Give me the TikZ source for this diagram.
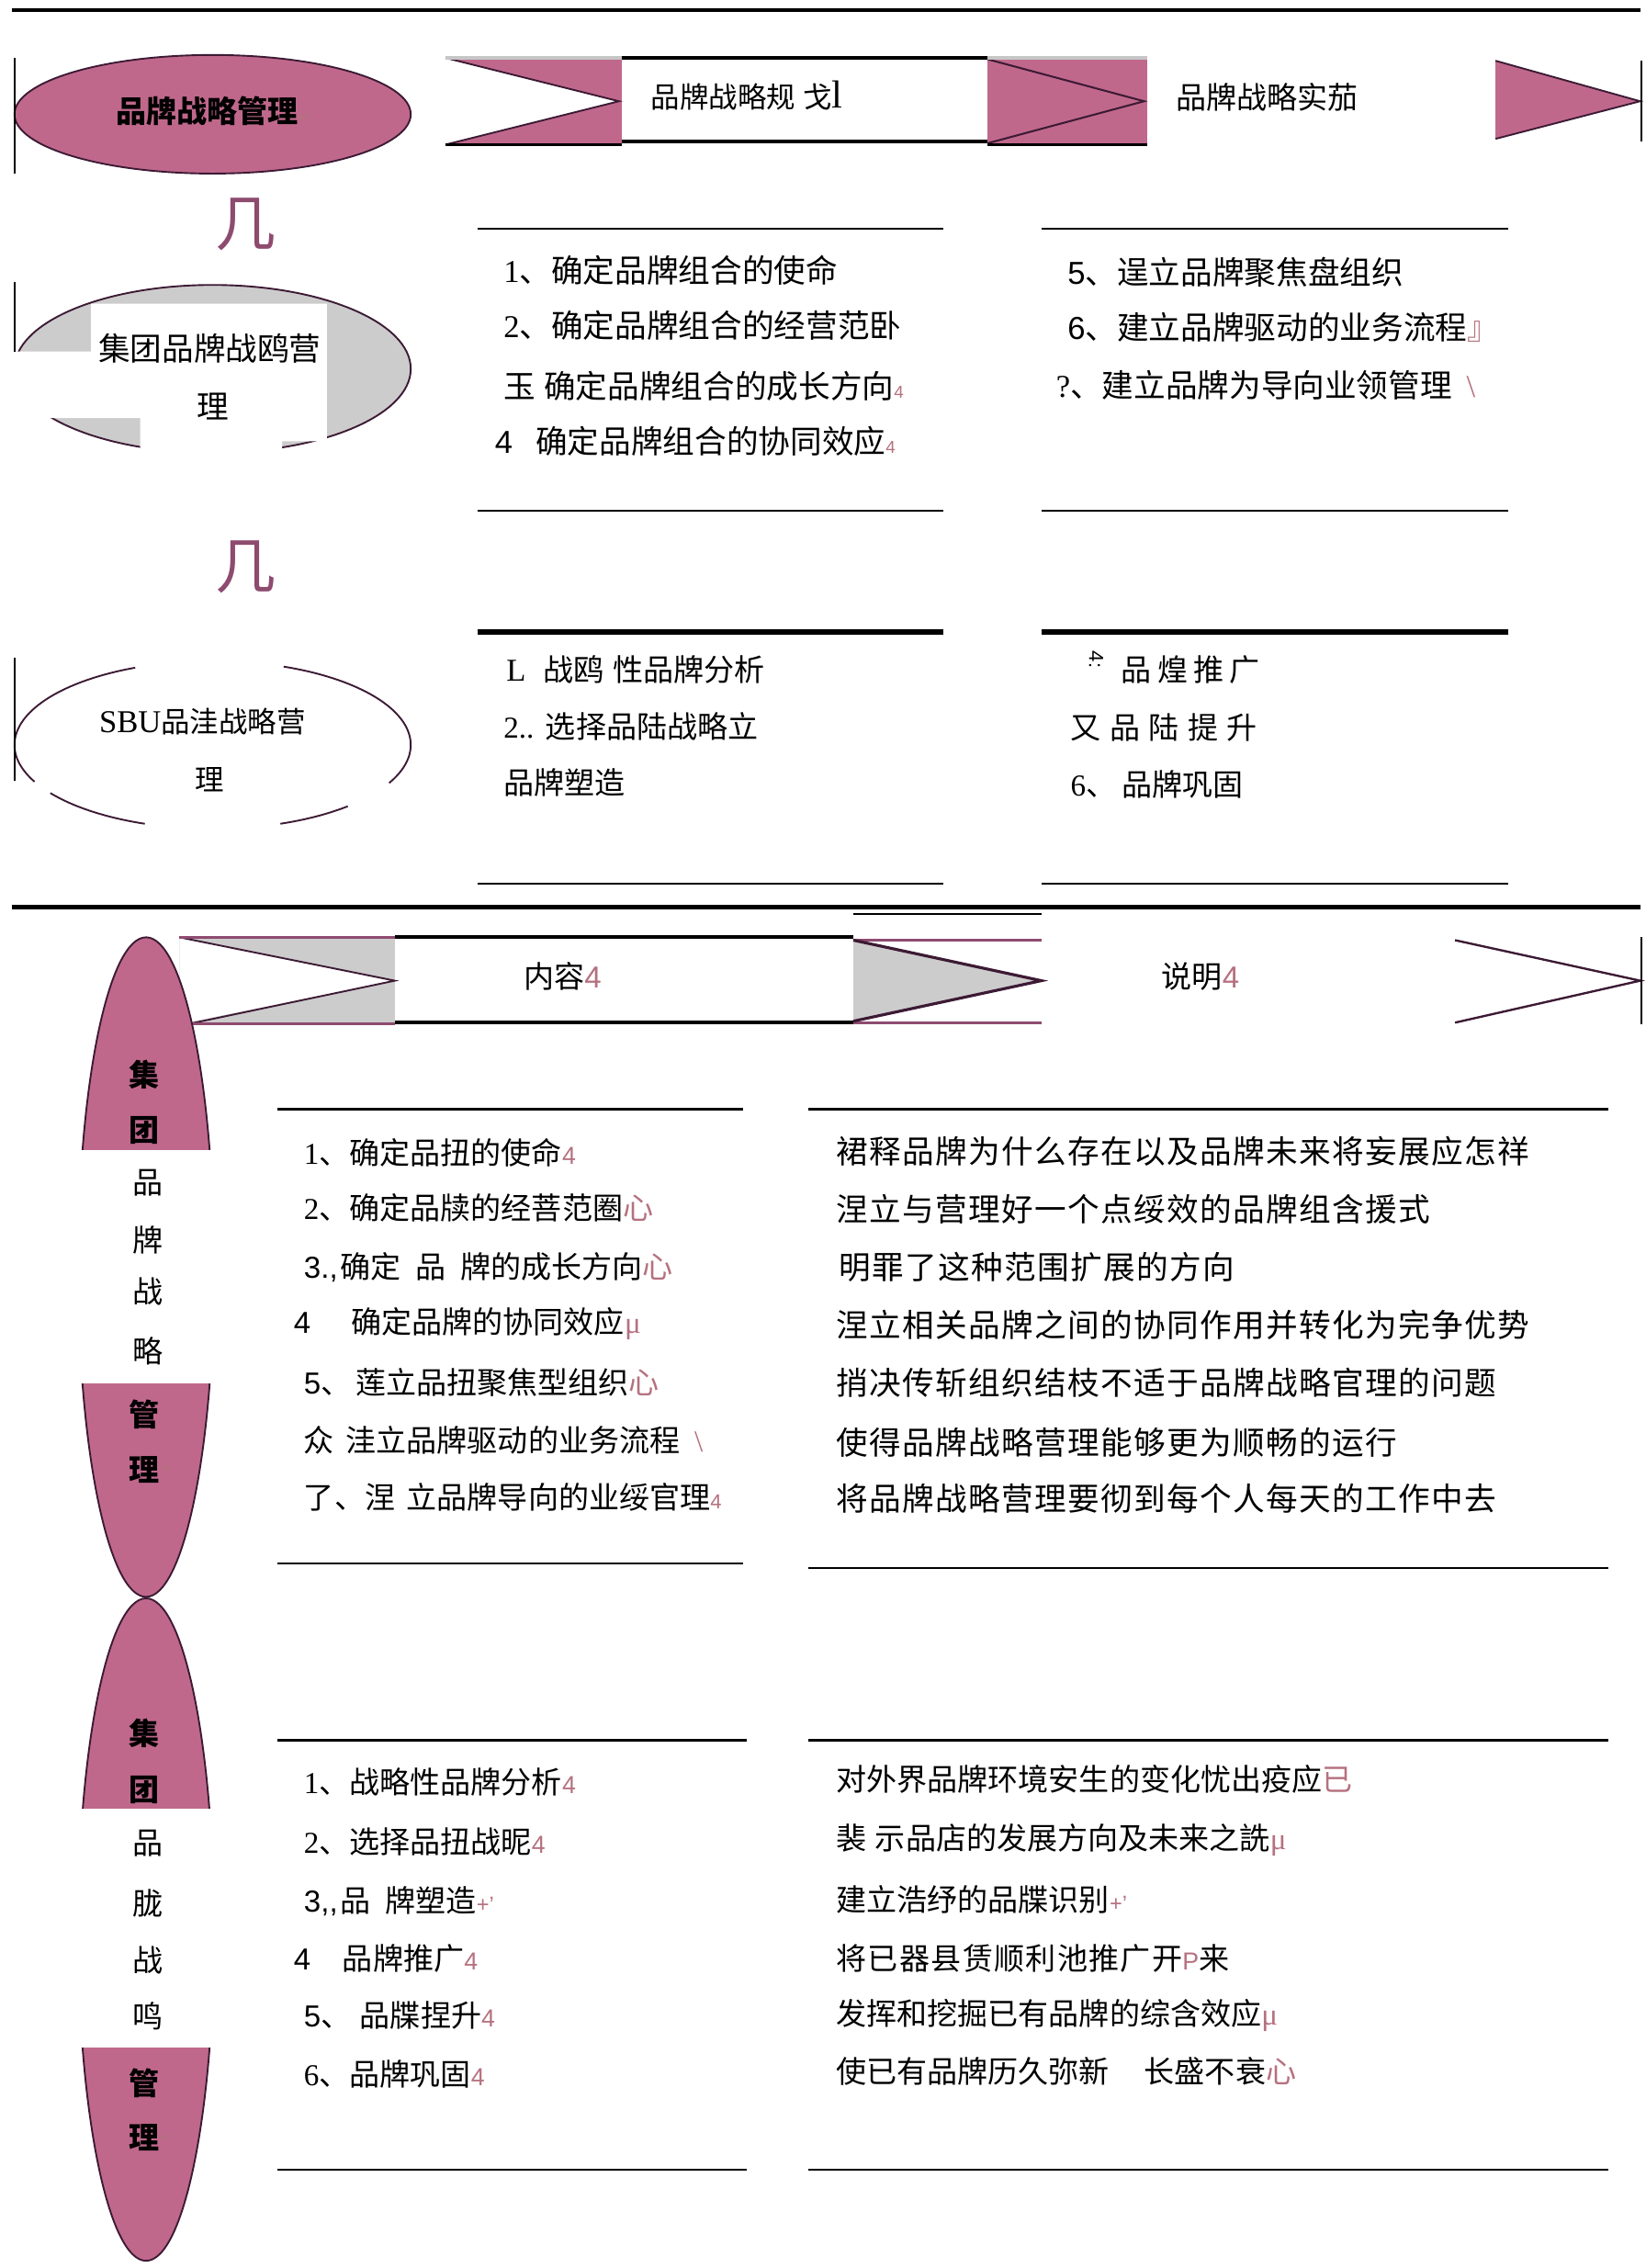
\documentclass[tikz,border=0pt]{standalone}
\usepackage{fontspec}
\setmainfont{Liberation Serif}
\newfontfamily\cjk{Noto Sans CJK SC}
\newfontfamily\cjkls[LetterSpace=4]{Noto Sans CJK SC}
\newfontfamily\asans{Liberation Sans}
\newfontfamily\dejavu{DejaVu Sans}
\definecolor{pinkc}{HTML}{C0688C}
\definecolor{mauve}{HTML}{8E4B70}
\definecolor{grayc}{HTML}{CCCCCC}
\definecolor{markc}{HTML}{B5717F}
\definecolor{edgec}{HTML}{3C1A34}
\newcommand\pinkmark[1]{{\color{markc}#1}}
\begin{document}
\begin{tikzpicture}[x=1pt,y=-1pt,
  ta/.style={anchor=west,inner sep=0pt,font=\cjk\fontsize{22}{22}\selectfont,text height=19.4pt,text depth=2.6pt},
  tb/.style={anchor=west,inner sep=0pt,font=\cjk\fontsize{20}{20}\selectfont,text height=17.6pt,text depth=2.4pt},
  tc/.style={anchor=west,inner sep=0pt,font=\cjk\fontsize{21}{21}\selectfont,text height=18.5pt,text depth=2.5pt},
  td/.style={anchor=west,inner sep=0pt,font=\cjkls\fontsize{22}{22}\selectfont,text height=19.4pt,text depth=2.6pt},
  ctr/.style={anchor=center,inner sep=0pt,font=\cjk\fontsize{22}{22}\selectfont,text height=19.4pt,text depth=2.6pt},
  lensch/.style={anchor=center,inner sep=0pt,font=\cjk\fontsize{21}{21}\selectfont,text height=18.5pt,text depth=2.5pt},
  lensbold/.style={lensch,font=\cjk\bfseries\fontsize{21}{21}\selectfont},
  arrowchar/.style={anchor=center,inner sep=0pt,font=\cjk\fontsize{42}{42}\selectfont,text=mauve},
  rulethin/.style={line width=1.6pt},
  rulethick/.style={line width=2.5pt},
  rulefat/.style={line width=4pt},
  rim/.style={draw=edgec,line width=1.2pt},
]
\useasboundingbox (0,0) rectangle (1138,1568);
\fill[white] (0,0) rectangle (1138,1568);
\draw[rulethick] (8,7) -- (1134,7);

% ---------------- top row
\fill[pinkc,rim] (147,79) ellipse [x radius=137,y radius=41];
\draw[line width=1pt] (10,40) -- (10,120);
\node[anchor=west,inner sep=0pt,font=\cjk\bfseries\fontsize{21}{21}\selectfont,text height=18.5pt,text depth=2.5pt] (brand) at (80,77) {品牌战略管理\pinkmark{{\dejavu\fontsize{11}{11}\selectfont ↵}}};

\fill[pinkc] (308,40) rectangle (430,100);
\fill[white] (308,40) -- (428,70) -- (308,100) -- cycle;
\draw[rim] (308,40) -- (428,70) -- (308,100);
\draw[gray!45,line width=2pt] (308,40) -- (430,40);
\draw[line width=2pt] (308,100) -- (430,100);

\draw[line width=2.5pt] (430,40) -- (683,40);
\draw[line width=2.5pt] (430,98) -- (683,98);
\node[tb] (plan) at (450,67) {品牌战略规\hspace{5pt}戈{\rmfamily\fontsize{27}{27}\selectfont l}};

\fill[pinkc] (683,40) rectangle (793,100);
\draw[line width=1.3pt,edgec] (683,41) -- (791,70) -- (683,99);
\draw[gray!45,line width=2pt] (683,40) -- (793,40);
\draw[line width=2pt] (683,100) -- (793,100);
\node[tc] (impl) at (813,67) {品牌战略实茄};

\fill[pinkc] (1034,42) -- (1134,70) -- (1034,96) -- cycle;
\draw[rim] (1034,42) -- (1134,70) -- (1034,96);
\draw[line width=1pt] (1135,42) -- (1135,98);

\node[arrowchar] (down1) at (170,155) {几};
\node[arrowchar] (down2) at (170,392) {几};

% ---------------- group ellipse
\fill[grayc,rim] (147,255) ellipse [x radius=137,y radius=58];
\fill[white] (63,210) -- (226,210) -- (226,305) -- (195,305) -- (195,320) -- (97,320) -- (97,289) -- (4,289) -- (4,243) -- (63,243) -- cycle;
\draw[line width=1pt] (10,195) -- (10,243);
\node[ctr] (grp1) at (145,241) {集团品牌战鸥营};
\node[ctr] (grp2) at (147,281) {理};

% ---------------- SBU ellipse
\draw[rim] (147,515) ++(154:137 and 58) arc[start angle=154,end angle=247,x radius=137,y radius=58];
\draw[rim] (147,515) ++(110:137 and 58) arc[start angle=110,end angle=145,x radius=137,y radius=58];
\draw[rim] (147,515) ++(47:137 and 58) arc[start angle=47,end angle=70,x radius=137,y radius=58];
\draw[rim] (147,515) ++(-69:137 and 58) arc[start angle=-69,end angle=27,x radius=137,y radius=58];
\draw[line width=1pt] (10,455) -- (10,540);
\node[ctr,font=\cjk\fontsize{20}{20}\selectfont] (sbu1) at (140,498) {{\rmfamily\fontsize{22}{22}\selectfont SBU}品洼战略营};
\node[ctr,font=\cjk\fontsize{20}{20}\selectfont] (sbu2) at (145,538) {理};

% ---------------- top lists, block 1
\draw[rulethin] (330,158) -- (652,158);
\draw[rulethin] (330,353) -- (652,353);
\draw[rulethin] (720,158) -- (1043,158);
\draw[rulethin] (720,353) -- (1043,353);
\node[ta] (p1) at (348,187) {{\rmfamily 1}、确定品牌组合的使命};
\node[ta] (p2) at (348,225) {{\rmfamily 2}、确定品牌组合的经营范卧};
\node[ta] (p3) at (348,267) {玉\hspace{6pt}确定品牌组合的成长方向\pinkmark{{\asans\fontsize{12}{12}\selectfont 4}}};
\node[ta] (p4) at (342,305) {{\asans 4}\hspace{16pt}确定品牌组合的协同效应\pinkmark{{\asans\fontsize{12}{12}\selectfont 4}}};
\node[ta] (p5) at (738,188) {{\asans 5}、逞立品牌聚焦盘组织};
\node[ta] (p6) at (738,226) {{\asans 6}、建立品牌驱动的业务流程\pinkmark{』}};
\node[ta] (p7) at (730,266) {{\rmfamily ?}、建立品牌为导向业领管理\hspace{10pt}\pinkmark{{\rmfamily\textbackslash}}};

% ---------------- top lists, block 2
\draw[rulefat] (330,437) -- (652,437);
\draw[rulefat] (720,437) -- (1043,437);
\draw[rulethin] (330,611) -- (652,611);
\draw[rulethin] (720,611) -- (1043,611);
\node[tc] (q1) at (350,463) {{\rmfamily\fontsize{22}{22}\selectfont L}\hspace{12pt}战鸥\hspace{6pt}性品牌分析};
\node[tc] (q2) at (348,502) {{\rmfamily 2..}\hspace{8pt}选择品陆战略立};
\node[tc] (q3) at (348,541) {品牌塑造};
\node[anchor=center,inner sep=0pt,font=\asans\fontsize{14}{14}\selectfont,rotate=-90] (q4m) at (758,456) {4:};
\node[tc] (q4) at (775,463) {品\hspace{4pt}煌\hspace{4pt}推\hspace{4pt}广};
\node[tc] (q5) at (740,503) {又\hspace{6pt}品\hspace{6pt}陆\hspace{6pt}提\hspace{6pt}升};
\node[tc] (q6) at (740,542) {{\rmfamily 6}、\hspace{4pt}品牌巩固};

% ---------------- divider
\draw[line width=3pt] (8,627) -- (1134,627);
\draw[line width=1pt] (590,632) -- (720,632);

% ---------------- header row
\fill[grayc] (124,648) rectangle (273,708);
\fill[white] (124,648) -- (273,678) -- (124,708) -- cycle;
\draw[rim] (124,648) -- (273,678) -- (130,708);
\draw[mauve,line width=2pt] (124,648) -- (273,648);
\draw[mauve,line width=2pt] (130,708) -- (273,708);
\draw[line width=2.5pt] (273,648) -- (590,648);
\draw[line width=2.5pt] (273,707) -- (590,707);
\node[tc] (content) at (362,675) {内容\pinkmark{{\asans 4}}};
\draw[mauve,line width=2pt] (590,650) -- (720,650);
\draw[mauve,line width=2pt] (590,707) -- (720,707);
\fill[grayc] (590,650) -- (720,678) -- (590,706) -- cycle;
\draw[line width=2pt,edgec] (590,650) -- (720,678) -- (590,706);
\node[tc] (desc) at (803,675) {说明\pinkmark{{\asans 4}}};
\draw[rim,line width=1.5pt] (1006,650) -- (1134,678) -- (1006,707);
\draw[line width=1pt] (1135,648) -- (1135,708);

% ---------------- lenses
\begin{scope}
\clip (40,640) rectangle (160,795);
\fill[pinkc,rim] (101,876) ellipse [x radius=47,y radius=228];
\end{scope}
\begin{scope}
\clip (40,957) rectangle (160,1105);
\fill[pinkc,rim] (101,876) ellipse [x radius=47,y radius=228];
\end{scope}
\begin{scope}
\clip (40,1105) rectangle (160,1250);
\fill[pinkc,rim] (101,1334) ellipse [x radius=47,y radius=229];
\end{scope}
\begin{scope}
\clip (40,1416) rectangle (160,1570);
\fill[pinkc,rim] (101,1334) ellipse [x radius=47,y radius=229];
\end{scope}
\node[lensbold] (l1a) at (100,743) {集};
\node[lensbold] (l1b) at (100,781) {团};
\node[lensch] (l1c) at (102,817) {品};
\node[lensch] (l1d) at (102,857) {牌};
\node[lensch] (l1e) at (102,893) {战};
\node[lensch] (l1f) at (102,934) {略};
\node[lensbold] (l1g) at (100,978) {管};
\node[lensbold] (l1h) at (100,1016) {理};
\node[anchor=west,inner sep=0pt,font=\dejavu\fontsize{10}{10}\selectfont,text=markc] (l1r) at (111,1016) {↵};
\node[lensbold] (l2a) at (100,1198) {集};
\node[lensbold] (l2b) at (100,1237) {团};
\node[lensch] (l2c) at (102,1274) {品};
\node[lensch] (l2d) at (102,1316) {胧};
\node[lensch] (l2e) at (102,1355) {战};
\node[lensch] (l2f) at (102,1394) {鸣};
\node[lensbold] (l2g) at (100,1440) {管};
\node[lensbold] (l2h) at (100,1478) {理};
\node[anchor=west,inner sep=0pt,font=\dejavu\fontsize{10}{10}\selectfont,text=markc] (l2r) at (111,1478) {↵};

% ---------------- block A / B
\draw[rulethin] (192,767) -- (514,767);
\draw[rulethin] (192,1081) -- (514,1081);
\draw[rulethin] (559,767) -- (1112,767);
\draw[rulethin] (559,1084) -- (1112,1084);
\node[tc] (a1) at (210,797) {{\rmfamily 1}、确定品扭的使命\pinkmark{{\asans\fontsize{17}{17}\selectfont 4}}};
\node[tc] (a2) at (210,835) {{\rmfamily 2}、确定品牍的经菩范圈\pinkmark{心}};
\node[tc] (a3) at (210,876) {{\asans 3.,}\hspace{2pt}确定\hspace{10pt}品\hspace{10pt}牌的成长方向\pinkmark{心}};
\node[tc] (a4) at (203,914) {{\asans 4}\hspace{28pt}确定品牌的协同效应\pinkmark{{\rmfamily μ}}};
\node[tc] (a5) at (210,956) {{\asans 5}、\hspace{3pt}莲立品扭聚焦型组织\pinkmark{心}};
\node[tc] (a6) at (210,996) {众\hspace{8pt}洼立品牌驱动的业务流程\hspace{10pt}\pinkmark{{\rmfamily\textbackslash}}};
\node[tc] (a7) at (210,1035) {了、涅\hspace{8pt}立品牌导向的业绥官理\pinkmark{{\asans\fontsize{14}{14}\selectfont 4}}};

\node[td] (b1) at (578,796) {裙释品牌为什么存在以及品牌未来将妄展应怎祥};
\node[td] (b2) at (578,836) {涅立与营理好一个点绥效的品牌组含援式};
\node[td] (b3) at (580,876) {明罪了这种范围扩展的方向};
\node[td] (b4) at (578,916) {涅立相关品牌之间的协同作用并转化为完争优势};
\node[td] (b5) at (578,956) {捎决传斩组织结枝不适于品牌战略官理的问题};
\node[td] (b6) at (578,997) {使得品牌战略营理能够更为顺畅的运行};
\node[td] (b7) at (578,1036) {将品牌战略营理要彻到每个人每天的工作中去};

% ---------------- block C / D
\draw[rulethin] (192,1203) -- (516,1203);
\draw[rulethin] (192,1500) -- (516,1500);
\draw[rulethin] (559,1203) -- (1112,1203);
\draw[rulethin] (559,1500) -- (1112,1500);
\node[tc] (c1) at (210,1232) {{\rmfamily 1}、战略性品牌分析\pinkmark{{\asans\fontsize{17}{17}\selectfont 4}}};
\node[tc] (c2) at (210,1273) {{\rmfamily 2}、选择品扭战昵\pinkmark{{\asans\fontsize{17}{17}\selectfont 4}}};
\node[tc] (c3) at (210,1314) {{\asans 3,,}\hspace{2pt}品\hspace{10pt}牌塑造\pinkmark{{\asans\fontsize{15}{15}\selectfont +’}}};
\node[tc] (c4) at (203,1354) {{\asans 4}\hspace{22pt}品牌推广\pinkmark{{\asans\fontsize{17}{17}\selectfont 4}}};
\node[tc] (c5) at (210,1393) {{\asans 5}、\hspace{6pt}品牒捏升\pinkmark{{\asans\fontsize{17}{17}\selectfont 4}}};
\node[tc] (c6) at (210,1434) {{\rmfamily 6}、品牌巩固\pinkmark{{\asans\fontsize{17}{17}\selectfont 4}}};

\node[tc] (d1) at (578,1230) {对外界品牌环境安生的变化忧出疫应\pinkmark{已}};
\node[tc] (d2) at (578,1271) {裴\hspace{6pt}示品店的发展方向及未来之詵\pinkmark{{\rmfamily μ}}};
\node[tc] (d3) at (578,1313) {建立浩纾的品牒识别\pinkmark{{\asans\fontsize{15}{15}\selectfont +’}}};
\node[tc,font=\cjkls\fontsize{21}{21}\selectfont] (d4) at (578,1354) {将已器县赁顺利池推广开\pinkmark{{\asans\fontsize{17}{17}\selectfont P}}来};
\node[tc] (d5) at (578,1392) {发挥和挖掘已有品牌的综含效应\pinkmark{{\rmfamily μ}}};
\node[tc] (d6) at (578,1432) {使已有品牌历久弥新\hspace{24pt}长盛不衰\pinkmark{心}};
\end{tikzpicture}
\end{document}
